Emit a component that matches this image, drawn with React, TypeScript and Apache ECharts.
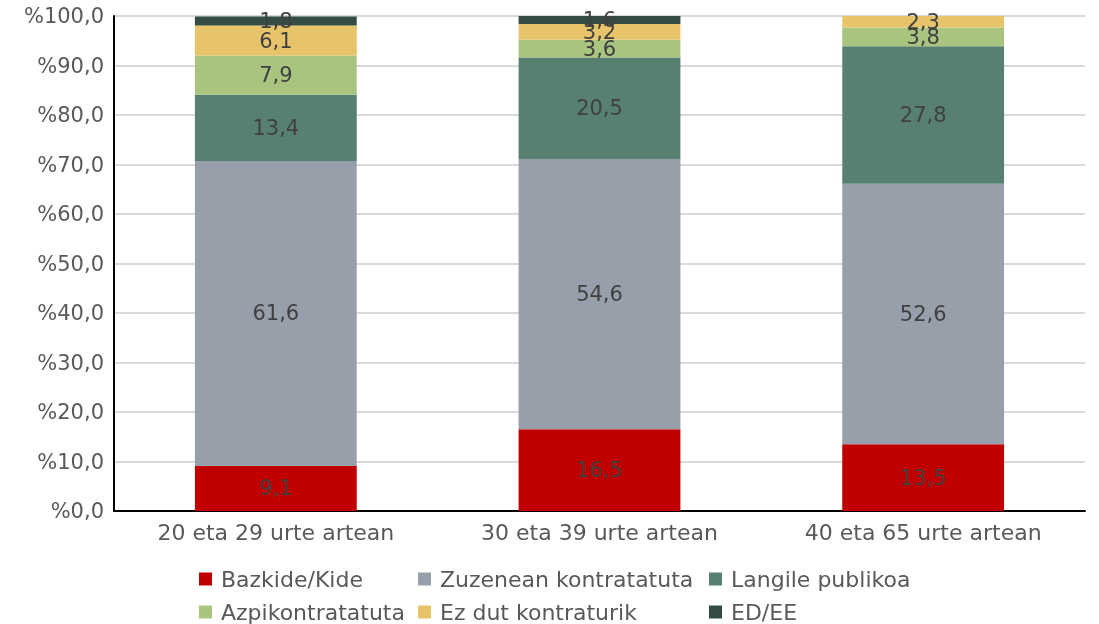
import React, { useEffect, useRef } from "react";
import * as echarts from "echarts";

const categories = ["20 eta 29 urte artean", "30 eta 39 urte artean", "40 eta 65 urte artean"];
const seriesNames = ["Bazkide/Kide", "Zuzenean kontratatuta", "Langile publikoa", "Azpikontratatuta", "Ez dut kontraturik", "ED/EE"];
const bazkide = [9.1, 16.5, 13.5];
const zuzenean = [61.6, 54.6, 52.6];
const langile = [13.4, 20.5, 27.8];
const azpi = [7.9, 3.6, 3.8];
const ezDut = [6.1, 3.2, 2.3];
const edee = [1.8, 1.6, null];
const colors = ["#C00000", "#97A0AA", "#588070", "#A9C47F", "#E7C36A", "#344C41"];

const FONT = "DejaVu Sans";

export default function App() {
  const ref = useRef<HTMLDivElement>(null);
  useEffect(() => {
    const chart = echarts.init(ref.current!, null, { renderer: "svg" });
    const data = [bazkide, zuzenean, langile, azpi, ezDut, edee];
    const legendCommon = {
      orient: "vertical",
      top: 568,
      height: 80,
      padding: 0,
      itemWidth: 13,
      itemHeight: 13,
      itemGap: 11,
      icon: "rect",
      textStyle: { fontFamily: FONT, fontSize: 22, color: "#595959", padding: [0, 0, 0, 4] },
    };
    chart.setOption({
      animation: false,
      textStyle: { fontFamily: FONT },
      color: colors,
      grid: { left: 114, right: 14, top: 16, bottom: 113, containLabel: false },
      legend: [
        { ...legendCommon, left: 199, data: [seriesNames[0], seriesNames[3]] },
        { ...legendCommon, left: 418, data: [seriesNames[1], seriesNames[4]] },
        { ...legendCommon, left: 709, data: [seriesNames[2], seriesNames[5]] },
      ],
      xAxis: {
        type: "category",
        data: categories,
        axisLine: { lineStyle: { color: "#000", width: 2 } },
        axisTick: { show: false },
        axisLabel: { fontFamily: FONT, fontSize: 22, color: "#595959", margin: 10 },
      },
      yAxis: {
        type: "value",
        min: 0,
        max: 100,
        interval: 10,
        axisLine: { show: true, lineStyle: { color: "#000", width: 2 } },
        axisTick: { show: false },
        splitLine: { lineStyle: { color: "#D9D9D9", width: 2 } },
        axisLabel: {
          fontFamily: FONT,
          fontSize: 21,
          color: "#595959",
          margin: 10,
          formatter: (v: number) => "%" + v.toFixed(1).replace(".", ","),
        },
      },
      series: seriesNames.map((name, i) => ({
        name,
        type: "bar",
        stack: "total",
        barWidth: "50%",
        data: data[i],
        itemStyle: { color: colors[i] },
        label: {
          show: true,
          position: "inside",
          fontFamily: FONT,
          fontSize: 21,
          color: "#404040",
          formatter: (p: any) => (p.value == null ? "" : Number(p.value).toFixed(1).replace(".", ",")),
        },
      })),
    });
    return () => chart.dispose();
  }, []);
  return <div ref={ref} style={{ position: "fixed", left: 0, top: 0, width: 1099, height: 624 }} />;
}
